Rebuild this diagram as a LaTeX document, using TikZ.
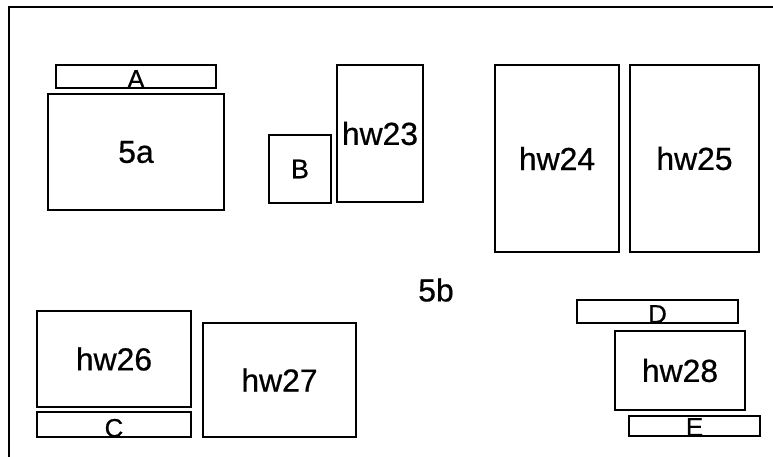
\documentclass[tikz,border=0pt]{standalone}
\usepackage{fontspec}
\setmainfont{Liberation Sans}[FakeBold=0.6]
\tikzset{
    box/.style={draw,line width=2bp,rectangle,inner sep=0pt},
    bigtxt/.style={font=\fontsize{32}{32}\selectfont,inner sep=0pt},
    bartxt/.style={font=\fontsize{26}{26}\selectfont,inner sep=0pt,anchor=base},
}
\begin{document}
\begin{tikzpicture}[x=1bp,y=-1bp]
            \useasboundingbox (0,0) rectangle (773,457);
            \clip (0,0) rectangle (773,457);
            % outer frame
            \draw[line width=2bp] (9,480) |- (800,7);
            
            \begin{scope}
                \node[box,minimum width=160bp,minimum height=23bp] (barA) at (136,76.5) {};
                \node[bartxt] (tA) at ([yshift=1bp]barA.south) {A};
                \node[box,minimum width=176bp,minimum height=116bp,bigtxt] (s5a) at (136,152) {5a};
                \node[box,minimum width=62bp,minimum height=68bp,font=\fontsize{27}{27}\selectfont] (boxB) at (300,169) {B};
                \node[box,minimum width=86bp,minimum height=137bp,bigtxt] (hw23) at (380,133.5) {hw23};
                \node[box,minimum width=124bp,minimum height=187bp,bigtxt] (hw24) at (557,158.5) {hw24};
                \node[box,minimum width=129bp,minimum height=187bp,bigtxt] (hw25) at (694.5,158.5) {hw25};
            \end{scope}
            
            \node[bigtxt] (s5b) at (436,290) {5b};
            
            \begin{scope}
                \node[box,minimum width=154bp,minimum height=96bp,bigtxt] (hw26) at (114,359) {hw26};
                \node[box,minimum width=154bp,minimum height=25bp] (barC) at (114,424.5) {};
                \node[bartxt] (tC) at ([yshift=1bp]barC.south) {C};
                \node[box,minimum width=153bp,minimum height=114bp,bigtxt] (hw27) at (279.5,380) {hw27};
                \node[box,minimum width=161bp,minimum height=23bp] (barD) at (657.5,311.5) {};
                \node[bartxt] (tD) at ([yshift=1bp]barD.south) {D};
                \node[box,minimum width=130bp,minimum height=79bp,bigtxt] (hw28) at (680,370.5) {hw28};
                \node[box,minimum width=131bp,minimum height=20bp] (barE) at (694.5,426) {};
                \node[bartxt] (tE) at ([yshift=1bp]barE.south) {E};
            \end{scope}
        \end{tikzpicture}
\end{document}
